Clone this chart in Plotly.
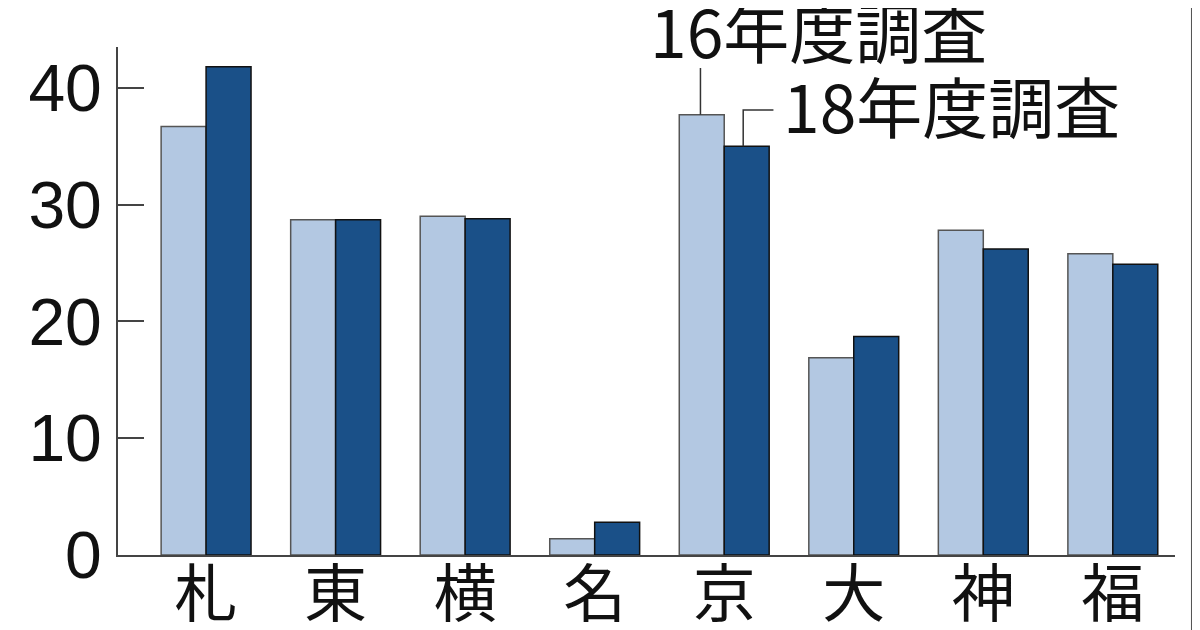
import plotly.graph_objects as go

cities = ["札", "東", "横", "名", "京", "大", "神", "福"]
survey16 = [36.7, 28.7, 29.0, 1.4, 37.7, 16.9, 27.8, 25.8]
survey18 = [41.8, 28.7, 28.8, 2.8, 35.0, 18.7, 26.2, 24.9]
y_ticks = [0, 10, 20, 30, 40]
label16 = "16年度調査"
label18 = "18年度調査"

pos = list(range(len(cities)))
bw = 0.347

light = "#b3c8e2"
dark = "#1a5088"

fig = go.Figure()
fig.add_trace(go.Bar(x=pos, y=survey16, name=label16, width=bw, offset=-bw,
                     marker=dict(color=light, line=dict(color="#555555", width=1.5))))
fig.add_trace(go.Bar(x=pos, y=survey18, name=label18, width=bw, offset=0,
                     marker=dict(color=dark, line=dict(color="#111111", width=1.5))))

ki = cities.index("京")
x16 = ki - bw / 2 - 0.01
x18 = ki + bw / 2 - 0.027
fig.add_shape(type="line", xref="x", yref="y", x0=x16, x1=x16,
              y0=survey16[ki], y1=survey16[ki] + 4.0,
              line=dict(color="#333333", width=1.5))
fig.add_shape(type="path", xref="x", yref="y",
              path=f"M {x18},{survey18[ki]} V {survey18[ki] + 3.1} H {ki + 0.38}",
              line=dict(color="#333333", width=1.5))

fig.add_annotation(text=label16, xref="x", yref="paper", x=ki - 0.59, y=1.036,
                   xanchor="left", yanchor="middle", showarrow=False,
                   font=dict(family="Noto Sans CJK JP", size=66, color="#111111"))
fig.add_annotation(text=label18, xref="x", yref="paper", x=ki + 0.44, y=0.888,
                   xanchor="left", yanchor="middle", showarrow=False,
                   font=dict(family="Noto Sans CJK JP", size=66, color="#111111"))

# right frame line
fig.add_shape(type="line", xref="paper", yref="paper", x0=1.017, x1=1.017, y0=-0.2, y1=1.1,
              line=dict(color="#555555", width=4))

fig.update_layout(
    width=1200, height=630,
    margin=dict(l=110, r=33, t=39, b=83),
    paper_bgcolor="white", plot_bgcolor="white",
    showlegend=False,
    barmode="overlay",
    xaxis=dict(range=[-0.68, 7.48], tickvals=pos, ticktext=cities, automargin=False,
               showline=True, linecolor="#444444", linewidth=2,
               ticks="", showgrid=False, zeroline=False, ticklabelstandoff=-17,
               tickfont=dict(family="Noto Sans CJK JP", size=63, color="#111111")),
    yaxis=dict(range=[0, 43.5], tickvals=y_ticks, automargin=False,
               showline=True, linecolor="#444444", linewidth=2,
               ticks="inside", ticklen=26, tickwidth=2, tickcolor="#444444",
               showgrid=False, zeroline=False, ticklabelstandoff=1,
               tickfont=dict(family="Liberation Sans Narrow, Arial", size=66, color="#111111")),
)

fig.write_html("out.html")
